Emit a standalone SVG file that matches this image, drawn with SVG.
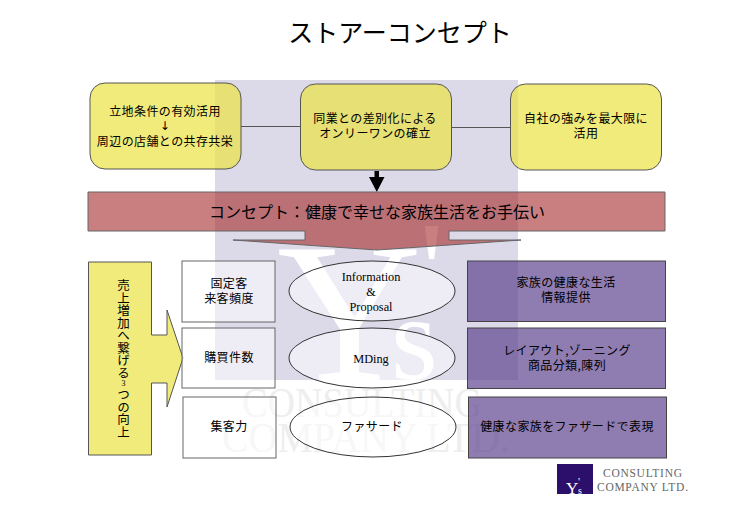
<svg xmlns="http://www.w3.org/2000/svg" width="734" height="513" viewBox="0 0 734 513">
<style>
text{font-family:"Noto Sans CJK JP","Liberation Sans",sans-serif;fill:#000;text-anchor:middle}
.t{font-size:12px;letter-spacing:.4px}
.s{font-family:"Liberation Serif","Noto Sans CJK JP",serif;font-size:12.300px}
.y{fill:#ebe245;fill-opacity:.7;stroke:#555;stroke-width:1}
.w{fill:#fff;fill-opacity:.5;stroke:#666;stroke-width:1}
.e{fill:#fff;fill-opacity:.5;stroke:#333;stroke-width:1}
.p{fill:#5f4590;fill-opacity:.7;stroke:#444;stroke-width:1}
.wm{font-family:"Liberation Serif",serif;fill:#eeeeee;font-size:42px;text-anchor:start}
.wy{font-family:"Liberation Serif",serif;fill:#fff;text-anchor:start}
.l{font-family:"Liberation Serif",serif;fill:#666;font-size:11.500px;text-anchor:start}
.ly{font-family:"Liberation Serif",serif;fill:#fff;text-anchor:start}
</style>
<rect width="734" height="513" fill="#fff"/>
<g id="watermark">
<rect x="215" y="80" width="303" height="300" fill="#dcd9e8"/>
<text class="wy" x="277" y="380" style="font-size:200px">Y</text>
<text class="wy" x="391" y="379" style="font-size:120px">s</text>
<text class="wy" x="419" y="318" style="font-size:140px">'</text>
<text class="wm" x="242" y="417" textLength="240" lengthAdjust="spacingAndGlyphs">CONSULTING</text>
<text class="wm" x="222" y="452" textLength="288" lengthAdjust="spacingAndGlyphs">COMPANY LTD.</text>
</g>
<text x="400" y="42" style="font-size:25px" id="title">ストアーコンセプト</text>
<g id="connectors">
<path d="M241 126.500H301M451 127.500H511" fill="none" stroke="#555" stroke-width="1"/>
<path d="M374.500 171H379V177H384.500L376.800 192L369 177H374.500Z" fill="#000"/>
</g>
<g id="n1"><rect class="y" x="90" y="83" width="151" height="86" rx="15"/>
<text class="t" x="165" y="116">立地条件の有効活用</text><text class="t" x="165" y="130" style="font-family:'DejaVu Sans',sans-serif">↓</text><text class="t" x="165" y="146">周辺の店舗との共存共栄</text></g>
<g id="n2"><rect class="y" x="300.500" y="84" width="151" height="86" rx="15"/>
<text class="t" x="375" y="123">同業との差別化による</text><text class="t" x="375" y="138">オンリーワンの確立</text></g>
<g id="n3"><rect class="y" x="510.500" y="84" width="151" height="86" rx="15"/>
<text class="t" x="586" y="123">自社の強みを最大限に</text><text class="t" x="586" y="138">活用</text></g>
<g id="concept"><path d="M88 192H665V231H449V240H521L377 250L233 240H305V231H88Z" fill="#a52a2a" fill-opacity=".6" stroke="#666" stroke-width="1"/>
<text x="377" y="217.500" style="font-size:16px">コンセプト：健康で幸せな家族生活をお手伝い</text></g>
<g id="arrow"><path d="M88.500 262H151.500V335H167V310L183 358L167 407V383H151.500V455H88.500Z" class="y"/>
<text x="123.500" y="279" style="font-size:12.500px;writing-mode:vertical-rl;text-orientation:upright;text-anchor:start">売上増加へ繋げる<tspan style="font-size:8px;font-family:'Liberation Serif',serif">3</tspan>つの向上</text>
</g>
<g id="b1"><rect class="w" x="182" y="261" width="93" height="61"/><text class="t" x="229" y="288">固定客</text><text class="t" x="229" y="303">来客頻度</text></g>
<g id="b2"><rect class="w" x="182" y="328" width="93" height="60"/><text class="t" x="229" y="362">購買件数</text></g>
<g id="b3"><rect class="w" x="183" y="397" width="93" height="61"/><text class="t" x="229" y="431">集客力</text></g>
<g id="e1"><ellipse class="e" cx="372" cy="291" rx="83" ry="30"/><text class="s" x="371" y="281">Information</text><text class="s" x="371" y="296">&amp;</text><text class="s" x="371" y="311">Proposal</text></g>
<g id="e2"><ellipse class="e" cx="372" cy="358" rx="83" ry="30"/><text class="s" x="371" y="363">MDing</text></g>
<g id="e3"><ellipse class="e" cx="373" cy="427" rx="83" ry="30"/><text class="t" x="372" y="431">ファサード</text></g>
<g id="p1"><rect class="p" x="467.500" y="261" width="198" height="60.500"/><text class="t" x="566" y="287">家族の健康な生活</text><text class="t" x="566" y="302">情報提供</text></g>
<g id="p2"><rect class="p" x="467.500" y="328" width="198" height="60.500"/><text class="t" x="567" y="355">レイアウト,ゾーニング</text><text class="t" x="567" y="370">商品分類,陳列</text></g>
<g id="p3"><rect class="p" x="468.500" y="397" width="198" height="61"/><text class="t" x="567" y="431">健康な家族をファザードで表現</text></g>
<g id="logo"><rect x="557" y="464" width="36" height="30" fill="#2b0f6b"/>
<text class="ly" x="566" y="494" style="font-size:17px">Y</text><text class="ly" x="578" y="494" style="font-size:10px">s</text><text class="ly" x="578" y="485" style="font-size:11px">'</text>
<text class="l" x="603" y="477" textLength="79">CONSULTING</text><text class="l" x="597" y="491" textLength="91">COMPANY LTD.</text></g>
</svg>
